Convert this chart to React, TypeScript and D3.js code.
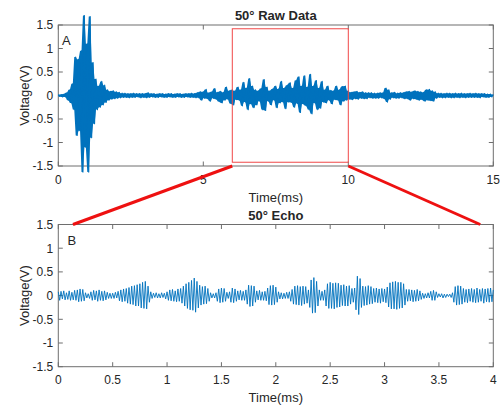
import React from 'react';
import * as d3 from 'd3';

// ---- data ----
const topTitle = '50° Raw Data';
const echoTitle = '50° Echo';
const xLabel = 'Time(ms)';
const yLabel = 'Voltage(V)';

const topTicksX = [0, 5, 10, 15];
const echoTicksX = [0, 0.5, 1, 1.5, 2, 2.5, 3, 3.5, 4];
const yTicks = [-1.5, -1, -0.5, 0, 0.5, 1, 1.5];

// raw trace, one value every 0.05 ms (0..15 ms)
const topStep = 0.05;
const topSignal = [
  0.02, -0.02, 0.02, -0.03, 0.03, -0.03, 0.06, -0.1, 0.12, -0.16, 0.25, -0.3, 0.82, -0.85, 0.77, -0.75, 0.95, -1.63, 1.7, -1.1,
  1.1, -1.63, 1.68, -0.9, 0.7, -0.6, 0.35, -0.3, 0.2, -0.25, 0.3, -0.2, 0.22, -0.15, 0.12, -0.1, 0.09, -0.08, 0.1, -0.07,
  0.08, -0.06, 0.07, -0.05, 0.05, -0.04, 0.05, -0.04, 0.04, -0.05, 0.04, -0.04, 0.05, -0.04, 0.04, -0.03, 0.04, -0.05, 0.04, -0.04,
  0.04, -0.05, 0.06, -0.04, 0.04, -0.03, 0.04, -0.04, 0.03, -0.04, 0.04, -0.03, 0.04, -0.04, 0.03, -0.04, 0.04, -0.03, 0.04, -0.04,
  0.03, -0.04, 0.04, -0.03, 0.04, -0.04, 0.03, -0.04, 0.04, -0.03, 0.04, -0.04, 0.05, -0.04, 0.04, -0.05, 0.06, -0.05, 0.08, -0.1,
  0.08, -0.06, 0.13, -0.07, 0.06, -0.12, 0.08, -0.06, 0.15, -0.08, 0.07, -0.13, 0.09, -0.16, 0.07, -0.1, 0.18, -0.08, 0.1, -0.17,
  0.12, -0.2, 0.1, -0.09, 0.18, -0.1, 0.12, -0.22, 0.28, -0.14, 0.16, -0.3, 0.36, -0.18, 0.2, -0.26, 0.12, -0.2, 0.1, -0.12,
  0.15, -0.3, 0.34, -0.32, 0.18, -0.12, 0.1, -0.2, 0.14, -0.1, 0.2, -0.26, 0.14, -0.16, 0.3, -0.14, 0.16, -0.28, 0.22, -0.14,
  0.27, -0.15, 0.16, -0.25, 0.32, -0.17, 0.4, -0.36, 0.2, -0.18, 0.42, -0.22, 0.18, -0.3, 0.45, -0.39, 0.2, -0.16, 0.32, -0.3,
  0.16, -0.27, 0.3, -0.14, 0.12, -0.16, 0.2, -0.1, 0.11, -0.18, 0.1, -0.09, 0.2, -0.1, 0.12, -0.2, 0.19, -0.12, 0.2, -0.1,
  0.1, -0.08, 0.07, -0.09, 0.08, -0.07, 0.09, -0.08, 0.07, -0.06, 0.08, -0.07, 0.06, -0.07, 0.06, -0.05, 0.06, -0.06, 0.05, -0.06,
  0.05, -0.06, 0.06, -0.05, 0.06, -0.07, 0.16, -0.14, 0.12, -0.08, 0.06, -0.05, 0.07, -0.06, 0.05, -0.06, 0.06, -0.05, 0.06, -0.07,
  0.08, -0.07, 0.09, -0.1, 0.08, -0.07, 0.1, -0.08, 0.09, -0.1, 0.08, -0.09, 0.07, -0.12, 0.12, -0.1, 0.13, -0.11, 0.1, -0.12,
  0.08, -0.06, 0.05, -0.04, 0.05, -0.05, 0.04, -0.05, 0.05, -0.04, 0.05, -0.05, 0.04, -0.05, 0.05, -0.04, 0.04, -0.05, 0.05, -0.04,
  0.04, -0.05, 0.04, -0.04, 0.05, -0.04, 0.04, -0.04, 0.05, -0.04, 0.04, -0.05, 0.04, -0.03, 0.04, -0.04, 0.03, -0.04, 0.03, -0.03,
  0.02,
];

// echo trace, one value every 0.0125 ms (0..4 ms)
const echoStep = 0.0125;
const echoSignal = [
  0.08, -0.1, 0.09, -0.07, 0.1, -0.09, 0.06, -0.08, 0.1, -0.1, 0.07, -0.09, 0.11, -0.1, 0.12, -0.13, 0.14, -0.12, 0.13, -0.11,
  0.06, -0.05, 0.04, -0.06, 0.08, -0.1, 0.11, -0.09, 0.1, -0.12, 0.12, -0.1, 0.09, -0.11, 0.1, -0.09, 0.07, -0.06, 0.05, -0.06,
  0.05, -0.06, 0.07, -0.05, 0.09, -0.11, 0.12, -0.13, 0.14, -0.12, 0.15, -0.16, 0.17, -0.18, 0.2, -0.19, 0.21, -0.22, 0.23, -0.22,
  0.25, -0.26, 0.28, -0.27, 0.3, -0.28, 0.2, -0.14, 0.08, -0.06, 0.05, -0.04, 0.06, -0.05, 0.04, -0.05, 0.06, -0.04, 0.05, -0.07,
  0.08, -0.1, 0.12, -0.11, 0.13, -0.12, 0.1, -0.13, 0.14, -0.12, 0.15, -0.16, 0.2, -0.22, 0.25, -0.27, 0.28, -0.3, 0.32, -0.31,
  0.37, -0.35, 0.3, -0.26, 0.22, -0.2, 0.19, -0.18, 0.2, -0.17, 0.15, -0.12, 0.06, -0.05, 0.04, -0.05, 0.06, -0.12, 0.14, -0.15,
  0.16, -0.14, 0.15, -0.12, 0.07, -0.06, 0.08, -0.14, 0.16, -0.15, 0.14, -0.12, 0.1, -0.09, 0.11, -0.1, 0.09, -0.1, 0.12, -0.18,
  0.22, -0.23, 0.21, -0.22, 0.2, -0.14, 0.1, -0.09, 0.11, -0.1, 0.08, -0.1, 0.09, -0.11, 0.16, -0.19, 0.21, -0.2, 0.22, -0.19,
  0.18, -0.14, 0.08, -0.07, 0.06, -0.07, 0.05, -0.06, 0.07, -0.06, 0.08, -0.12, 0.13, -0.18, 0.2, -0.19, 0.21, -0.2, 0.19, -0.21,
  0.2, -0.18, 0.19, -0.16, 0.12, -0.25, 0.33, -0.37, 0.38, -0.36, 0.3, -0.22, 0.12, -0.1, 0.09, -0.1, 0.12, -0.22, 0.25, -0.27,
  0.28, -0.27, 0.26, -0.28, 0.27, -0.25, 0.26, -0.24, 0.22, -0.21, 0.23, -0.22, 0.2, -0.22, 0.21, -0.18, 0.15, -0.14, 0.16, -0.3,
  0.41, -0.4, 0.36, -0.25, 0.2, -0.21, 0.19, -0.2, 0.21, -0.18, 0.19, -0.17, 0.15, -0.14, 0.16, -0.15, 0.14, -0.16, 0.15, -0.13,
  0.14, -0.15, 0.18, -0.24, 0.27, -0.28, 0.29, -0.28, 0.3, -0.29, 0.28, -0.27, 0.28, -0.26, 0.25, -0.2, 0.13, -0.12, 0.13, -0.11,
  0.12, -0.13, 0.11, -0.12, 0.13, -0.11, 0.1, -0.08, 0.05, -0.06, 0.04, -0.05, 0.06, -0.05, 0.09, -0.1, 0.11, -0.1, 0.08, -0.04,
  0.04, -0.03, 0.04, -0.05, 0.03, -0.04, 0.03, -0.02, 0.03, -0.04, 0.06, -0.14, 0.19, -0.2, 0.21, -0.19, 0.2, -0.18, 0.15, -0.14,
  0.13, -0.15, 0.14, -0.12, 0.15, -0.14, 0.13, -0.15, 0.16, -0.14, 0.13, -0.12, 0.15, -0.16, 0.14, -0.13, 0.15, -0.14, 0.16, -0.13,
  0.12,
];

// zoom box on the raw trace (ms, V) and where the connectors land on the echo axes (ms)
const zoomTime = [6, 10];
const zoomVolt = [-1.42, 1.42];
const connectorTargets = [0.135, 3.88];

const FONT = "'Liberation Sans', Arial, sans-serif";
const TEXT = '#262626';
const AXIS = '#6e6e6e';
const BLUE = '#0072BD';

type Scale = d3.ScaleLinear<number, number>;

function Axes({ x, y, xTicks, label }: { x: Scale; y: Scale; xTicks: number[]; label: string }) {
  const [x0, x1] = x.range();
  const [yb, yt] = y.range();
  const tl = 4.5;
  return (
    <g>
      <rect x={x0} y={yt} width={x1 - x0} height={yb - yt} fill="none" stroke={AXIS} strokeWidth={1} />
      {xTicks.map((t) => (
        <g key={'x' + t}>
          <line x1={x(t)} x2={x(t)} y1={yb} y2={yb - tl} stroke={AXIS} />
          <line x1={x(t)} x2={x(t)} y1={yt} y2={yt + tl} stroke={AXIS} />
          <text x={x(t)} y={yb + 17.5} textAnchor="middle" fontSize={12} fill={TEXT} fontFamily={FONT}>
            {String(t)}
          </text>
        </g>
      ))}
      {yTicks.map((v) => (
        <g key={'y' + v}>
          <line x1={x0} x2={x0 + tl} y1={y(v)} y2={y(v)} stroke={AXIS} />
          <line x1={x1} x2={x1 - tl} y1={y(v)} y2={y(v)} stroke={AXIS} />
          <text x={x0 - 5} y={y(v) + 4.3} textAnchor="end" fontSize={12} fill={TEXT} fontFamily={FONT}>
            {String(v)}
          </text>
        </g>
      ))}
      <text x={(x0 + x1) / 2} y={yb + 35.7} textAnchor="middle" fontSize={13} fill={TEXT} fontFamily={FONT}>
        {xLabel}
      </text>
      <text
        transform={`translate(29,${(yb + yt) / 2}) rotate(-90)`}
        textAnchor="middle"
        fontSize={13}
        fill={TEXT}
        fontFamily={FONT}
      >
        {yLabel}
      </text>
      <text x={(x0 + x1) / 2} y={yt - 5} textAnchor="middle" fontSize={13} fontWeight="bold" fill={TEXT} fontFamily={FONT}>
        {label}
      </text>
    </g>
  );
}

export default function App() {
  const W = 504;
  const H = 407;
  const left = 58.3;
  const right = 493.3;

  const xTop = d3.scaleLinear().domain([0, 15]).range([left, right]);
  const yTop = d3.scaleLinear().domain([-1.5, 1.5]).range([166, 25]);
  const xBot = d3.scaleLinear().domain([0, 4]).range([left, right]);
  const yBot = d3.scaleLinear().domain([-1.5, 1.5]).range([366.7, 224.5]);

  const topPath = d3
    .line<number>()
    .x((_, i) => xTop(i * topStep))
    .y((d) => yTop(d))(topSignal) as string;

  // the dense raw trace renders as a solid band: fill between neighbouring extremes of the trace
  const pair = (i: number) => topSignal.slice(i, Math.min(topSignal.length, i + 2));
  const topBand = d3
    .area<number>()
    .x((_, i) => xTop(i * topStep))
    .y0((_, i) => yTop(Math.min(...pair(i))))
    .y1((_, i) => yTop(Math.max(...pair(i))))(topSignal) as string;

  const echoPath = d3
    .line<number>()
    .x((_, i) => xBot(i * echoStep))
    .y((d) => yBot(d))(echoSignal) as string;

  const bx0 = xTop(zoomTime[0]);
  const bx1 = xTop(zoomTime[1]);
  const by0 = yTop(zoomVolt[1]);
  const by1 = yTop(zoomVolt[0]);

  return (
    <svg width={W} height={H} style={{ position: 'absolute', left: 0, top: 0, background: '#fff' }}>
      <rect width={W} height={H} fill="#fff" />
      <Axes x={xTop} y={yTop} xTicks={topTicksX} label={topTitle} />
      <Axes x={xBot} y={yBot} xTicks={echoTicksX} label={echoTitle} />
      <path d={topBand} fill={BLUE} stroke="none" />
      <path d={topPath} fill="none" stroke={BLUE} strokeWidth={1.1} strokeLinejoin="round" />
      <path d={echoPath} fill="none" stroke={BLUE} strokeWidth={0.9} />
      <rect x={bx0} y={by0} width={bx1 - bx0} height={by1 - by0} fill="none" stroke="#f04848" strokeWidth={1} />
      <line x1={bx0} y1={yTop(-1.5)} x2={xBot(connectorTargets[0])} y2={yBot(1.5)} stroke="#ee1111" strokeWidth={3} />
      <line x1={bx1} y1={yTop(-1.5)} x2={xBot(connectorTargets[1])} y2={yBot(1.5)} stroke="#ee1111" strokeWidth={3} />
      <text x={62} y={45} fontSize={13} fill={TEXT} fontFamily={FONT}>A</text>
      <text x={67.5} y={245} fontSize={13} fill={TEXT} fontFamily={FONT}>B</text>
    </svg>
  );
}
